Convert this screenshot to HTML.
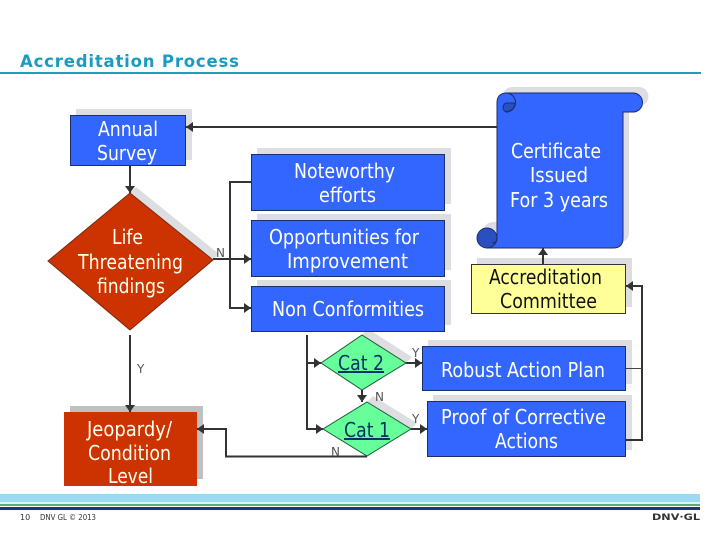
<!DOCTYPE html>
<html>
<head>
<meta charset="utf-8">
<style>
html,body{margin:0;padding:0;background:#fff;width:720px;height:540px;overflow:hidden}
svg{display:block}
.t{font-family:"DejaVu Sans",sans-serif;font-size:20px;fill:#fffff0}
.k{font-family:"DejaVu Sans",sans-serif;font-size:20px;fill:#111}
.l{font-family:"DejaVu Sans",sans-serif;font-size:12px;fill:#555}
.c{font-family:"DejaVu Sans",sans-serif;font-size:20px;fill:#003366;text-decoration:underline}
.f{font-family:"DejaVu Sans",sans-serif;font-size:8px;fill:#333}
</style>
</head>
<body>
<svg width="720" height="540" viewBox="0 0 720 540" xmlns="http://www.w3.org/2000/svg">
<defs>
<marker id="a" markerUnits="userSpaceOnUse" markerWidth="8" markerHeight="10" refX="7" refY="5" orient="auto"><path d="M0,0L7,5L0,10z" fill="#333"/></marker>
</defs>

<text x="20" y="67" font-family="'DejaVu Sans',sans-serif" font-weight="bold" font-size="16.5" fill="#1a9bc0" textLength="219" lengthAdjust="spacing">Accreditation Process</text>
<rect x="0" y="72" width="701" height="2" fill="#1f9fb8"/>

<!-- shadows -->
<g fill="#dddee2">
<rect x="76" y="109" width="116" height="51"/>
<polygon points="136,187 219,254 213,260 130,193"/>
<rect x="257" y="148" width="194" height="56"/>
<rect x="257" y="214" width="194" height="56"/>
<rect x="257" y="280" width="194" height="45"/>
<polygon points="368,329 412,357 406,363 362,335"/>
<polygon points="373,396 417,423 411,429 367,402"/>
<rect x="477" y="258" width="155" height="49"/>
<rect x="428" y="340" width="204" height="44"/>
<rect x="433" y="395" width="199" height="55"/>
<path d="M503,242V97Q503,87 513,87H639A9.500,9.500 0 0 1 639,106H629V232Q629,242 619,242Z"/>
<circle cx="493" cy="232" r="10"/>
</g>
<rect x="70" y="406" width="133" height="73" fill="#c0c0c0"/>

<!-- connectors -->
<g fill="none" stroke="#333" stroke-width="2">
<path d="M497,127H186" marker-end="url(#a)"/>
<path d="M130,165V193" marker-end="url(#a)"/>
<path d="M130,335V412" marker-end="url(#a)"/>
<path d="M213,259H251" marker-end="url(#a)"/>
<path d="M251,182H230V308H251" marker-end="url(#a)"/>
<path d="M307,335V429H323" marker-end="url(#a)"/>
<path d="M307,363H321" marker-end="url(#a)"/>
<path d="M406,363H422" marker-end="url(#a)"/>
<path d="M362,390V402" marker-end="url(#a)"/>
<path d="M411,429H427" marker-end="url(#a)"/>
<path d="M367,456.500H226V429H197" marker-end="url(#a)"/>
<path d="M626,440H642V286H626" marker-end="url(#a)"/>
<path d="M543,264V248" marker-end="url(#a)"/>
</g>
<path d="M626,368.500H642" stroke="#444" stroke-width="1"/>

<!-- shapes -->
<g stroke="#1c2f66" stroke-width="1" fill="#3366ff">
<rect x="70.500" y="115.500" width="115" height="50"/>
<rect x="251.500" y="154.500" width="193" height="56"/>
<rect x="251.500" y="220.500" width="193" height="56"/>
<rect x="251.500" y="286.500" width="193" height="45"/>
<rect x="422.500" y="346.500" width="203" height="44"/>
<rect x="427.500" y="401.500" width="198" height="55"/>
</g>
<polygon points="130,193 213,260 130,330 48,261" fill="#cc3300" stroke="#7a2a10"/>
<rect x="64" y="412" width="133" height="74" fill="#cc3300"/>
<polygon points="362,335 406,363 362,390 321,363" fill="#66ff99" stroke="#1c5a3a"/>
<polygon points="367,402 411,429 367,456 323,429" fill="#66ff99" stroke="#1c5a3a"/>
<rect x="471.500" y="264.500" width="154" height="49" fill="#ffff99" stroke="#333"/>

<!-- scroll -->
<circle cx="487" cy="238" r="10" fill="#2a4fc0" stroke="#1c2f66"/>
<path d="M497,238V103Q497,93 507,93H633A9.500,9.500 0 0 1 633,112H623V238Q623,248 613,248H487A10,10 0 0 0 497,238Z" fill="#3366ff" stroke="#1c2f66" stroke-width="1"/>
<path d="M497,228V238Q497,243 492,243" fill="none" stroke="#1c2f66"/>
<path d="M506,93A9.500,9.500 0 0 1 506,112" fill="none" stroke="#1c2f66"/>
<path d="M506,112A5,5 0 0 1 506,103H515Q515,110 506,112Z" fill="#2a4fc0" stroke="#1c2f66"/>

<!-- text -->
<text class="t" x="98" y="136" textLength="60" lengthAdjust="spacingAndGlyphs">Annual</text>
<text class="t" x="97" y="160" textLength="60" lengthAdjust="spacingAndGlyphs">Survey</text>
<text class="t" x="112" y="244" textLength="31" lengthAdjust="spacingAndGlyphs">Life</text>
<text class="t" x="78" y="269" textLength="105" lengthAdjust="spacingAndGlyphs">Threatening</text>
<text class="t" x="97" y="293" textLength="68" lengthAdjust="spacingAndGlyphs">findings</text>
<text class="t" x="294" y="178" textLength="101" lengthAdjust="spacingAndGlyphs">Noteworthy</text>
<text class="t" x="319" y="202" textLength="57" lengthAdjust="spacingAndGlyphs">efforts</text>
<text class="t" x="269" y="244" textLength="150" lengthAdjust="spacingAndGlyphs">Opportunities for</text>
<text class="t" x="287" y="268" textLength="121" lengthAdjust="spacingAndGlyphs">Improvement</text>
<text class="t" x="272" y="316" textLength="152" lengthAdjust="spacingAndGlyphs">Non Conformities</text>
<text class="t" x="511" y="158" textLength="90" lengthAdjust="spacingAndGlyphs">Certificate</text>
<text class="t" x="530" y="182" textLength="58" lengthAdjust="spacingAndGlyphs">Issued</text>
<text class="t" x="510" y="207" textLength="98" lengthAdjust="spacingAndGlyphs">For 3 years</text>
<text class="k" x="489" y="284" textLength="113" lengthAdjust="spacingAndGlyphs">Accreditation</text>
<text class="k" x="500" y="308" textLength="97" lengthAdjust="spacingAndGlyphs">Committee</text>
<text class="t" x="441" y="377" textLength="164" lengthAdjust="spacingAndGlyphs">Robust Action Plan</text>
<text class="t" x="441" y="424" textLength="165" lengthAdjust="spacingAndGlyphs">Proof of Corrective</text>
<text class="t" x="495" y="448" textLength="63" lengthAdjust="spacingAndGlyphs">Actions</text>
<text class="c" x="338" y="370" textLength="46" lengthAdjust="spacingAndGlyphs">Cat 2</text>
<text class="c" x="344" y="437" textLength="46" lengthAdjust="spacingAndGlyphs">Cat 1</text>
<text class="t" x="87" y="436" textLength="85" lengthAdjust="spacingAndGlyphs">Jeopardy/</text>
<text class="t" x="88" y="460" textLength="83" lengthAdjust="spacingAndGlyphs">Condition</text>
<text class="t" x="108" y="483" textLength="45" lengthAdjust="spacingAndGlyphs">Level</text>

<text class="l" x="137" y="373">Y</text>
<text class="l" x="216" y="257">N</text>
<text class="l" x="412" y="357">Y</text>
<text class="l" x="375" y="401">N</text>
<text class="l" x="331" y="456">N</text>
<text class="l" x="412" y="423">Y</text>

<!-- footer -->
<rect x="0" y="494" width="700" height="8" fill="#9dd9f0"/>
<rect x="0" y="502" width="700" height="2" fill="#dff2f8"/>
<rect x="0" y="504" width="700" height="2" fill="#5fa67a"/>
<rect x="0" y="507" width="700" height="3" fill="#123a78"/>
<text class="f" x="20" y="520">10</text>
<text class="f" x="40" y="520" textLength="56" lengthAdjust="spacingAndGlyphs">DNV GL © 2013</text>
<text x="652" y="520" font-family="'DejaVu Sans',sans-serif" font-weight="bold" font-size="8.500" fill="#333" textLength="48" lengthAdjust="spacingAndGlyphs">DNV·GL</text>
</svg>
</body>
</html>
